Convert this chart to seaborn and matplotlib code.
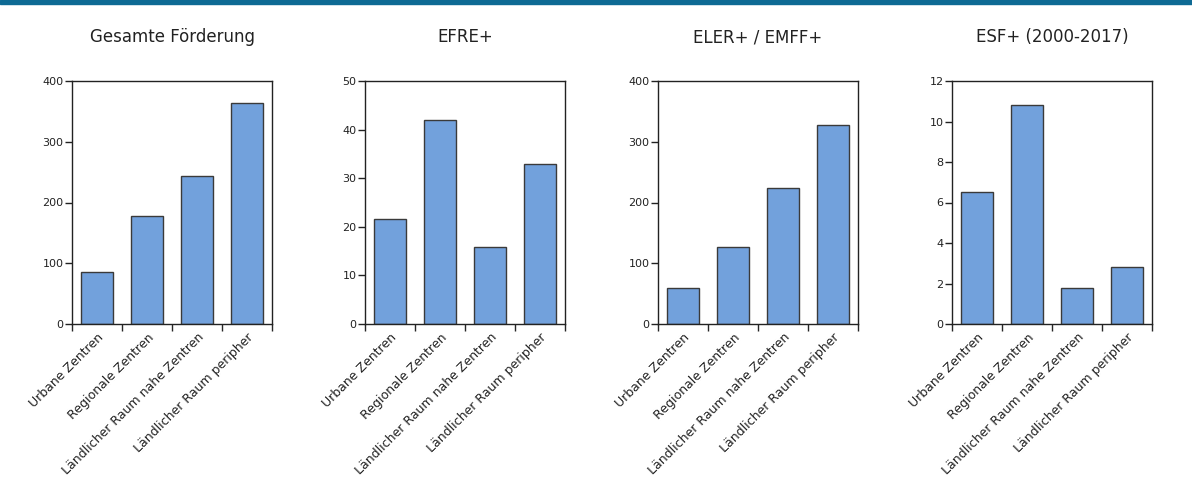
import pandas as pd
import seaborn as sns
import matplotlib.pyplot as plt
from matplotlib.patches import Rectangle

# Raumtypen (x-Achse)
categories = ["Urbane Zentren", "Regionale Zentren",
              "Ländlicher Raum nahe Zentren", "Ländlicher Raum peripher"]

# Werte je Fonds
gesamt = [86, 178, 243, 363]
efre = [21.6, 42, 15.8, 32.9]
eler_emff = [59, 127, 224, 327]
esf = [6.5, 10.8, 1.8, 2.8]

titles = ["Gesamte Förderung", "EFRE+", "ELER+ / EMFF+", "ESF+ (2000-2017)"]
series = [gesamt, efre, eler_emff, esf]
y_max = [400, 50, 400, 12]
y_step = [100, 10, 100, 2]

sns.set_style("white")
plt.rcParams['font.family'] = ['DejaVu Sans']

fig = plt.figure(figsize=(11.92, 5.01), dpi=100)
fig.patches.append(Rectangle((0, 1 - 4 / 501), 1, 4 / 501, transform=fig.transFigure,
                             color="#0e6a94", zorder=0))

lefts = [72, 365, 658, 952]
for i in range(4):
    ax = fig.add_axes([lefts[i] / 1192, 1 - 324 / 501, 200 / 1192, 243 / 501])
    df = pd.DataFrame({"Raum": categories, "Wert": series[i]})
    sns.barplot(data=df, x="Raum", y="Wert", ax=ax, color="#72a1dc", saturation=1,
                width=0.65, edgecolor="#3a3a3a", linewidth=1)
    ax.set_ylim(0, y_max[i])
    ax.set_xlim(-0.5, 3.5)
    ax.set_yticks(range(0, y_max[i] + 1, y_step[i]))
    ax.tick_params(axis="y", labelsize=8, length=5, width=1, direction="out", left=True,
                   pad=1, colors="#222222")
    # ticks between the categories, labels under the bars
    ax.set_xticks([-0.5, 0.5, 1.5, 2.5, 3.5])
    ax.set_xticklabels([])
    ax.set_xticks(range(4), minor=True)
    ax.set_xticklabels(categories, minor=True, rotation=45, ha="right",
                       rotation_mode="anchor", fontsize=9, color="#222222")
    ax.tick_params(axis="x", which="major", length=5, width=1, direction="out", bottom=True)
    ax.tick_params(axis="x", which="minor", length=0, pad=5)
    for s in ax.spines.values():
        s.set_visible(True)
        s.set_color("#222222")
        s.set_linewidth(1)
    ax.set_xlabel("")
    ax.set_ylabel("")
    ax.set_title(titles[i], fontsize=12, pad=28, color="#222222")

fig.savefig("out.png", dpi=100)
plt.close()
